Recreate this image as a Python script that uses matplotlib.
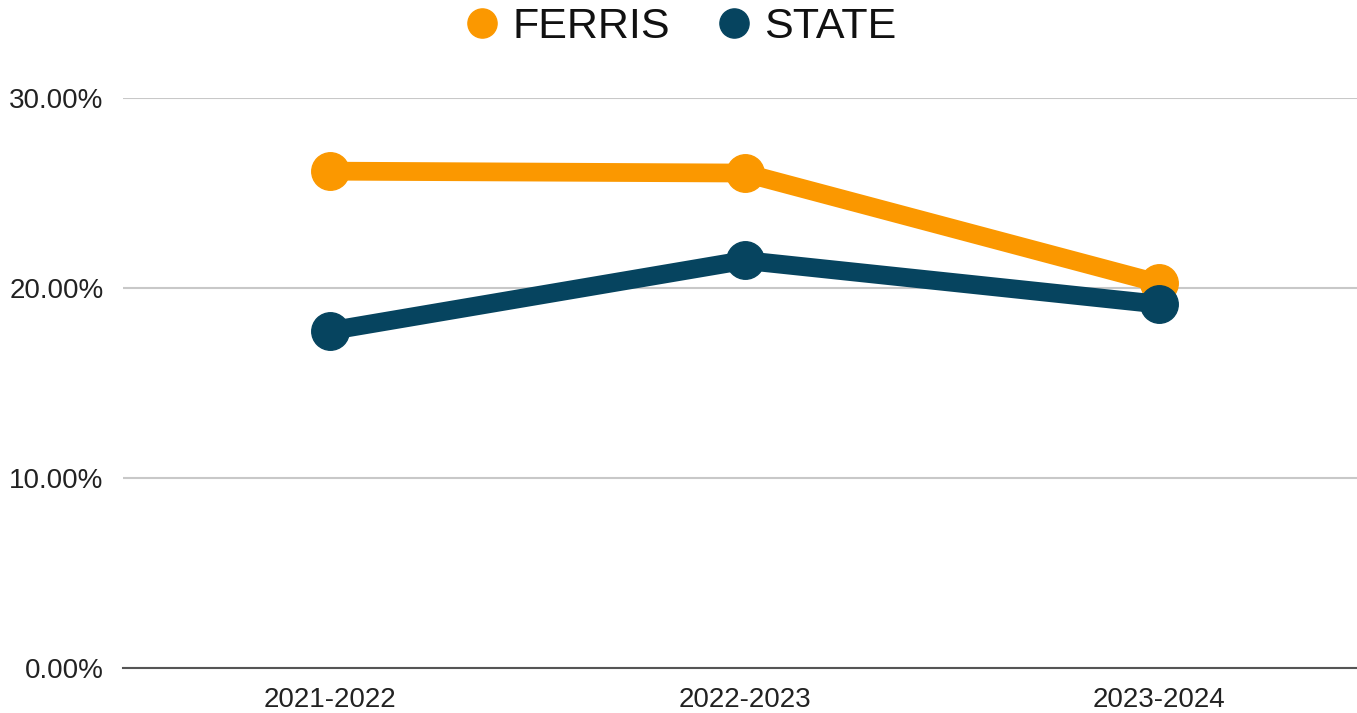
import matplotlib.pyplot as plt
from matplotlib.lines import Line2D
from matplotlib.ticker import FuncFormatter

plt.rcParams['font.family'] = ['Liberation Sans', 'DejaVu Sans']

years = ["2021-2022", "2022-2023", "2023-2024"]
ferris = [26.15, 26.05, 20.25]
state = [17.75, 21.45, 19.15]
yticks = [0, 10, 20, 30]

orange = "#FB9800"
navy = "#06445F"

fig = plt.figure(figsize=(13.57, 7.13), dpi=100)
ax = fig.add_axes([123 / 1357, 1 - 668 / 713, 1243 / 1357, 570 / 713])

x = range(len(years))
ax.plot(x, ferris, color=orange, lw=13.5, marker="o", ms=27, solid_capstyle="round", zorder=3)
ax.plot(x, state, color=navy, lw=13.5, marker="o", ms=27, solid_capstyle="round", zorder=4)

ax.set_xlim(-0.5, 2.5)
ax.set_ylim(0, 30)
ax.set_xticks(list(x))
ax.set_xticklabels(years)
ax.set_yticks(yticks)
ax.yaxis.set_major_formatter(FuncFormatter(lambda v, p: f"{v:.2f}%"))
ax.tick_params(axis="both", length=0, labelsize=20, colors="#222222")
ax.tick_params(axis="x", pad=14)
ax.tick_params(axis="y", pad=14)

ax.grid(axis="y", color="#C8C8C8", lw=1.5)
ax.set_axisbelow(True)
for s in ["top", "right", "left"]:
    ax.spines[s].set_visible(False)
ax.spines["bottom"].set_color("#555555")
ax.spines["bottom"].set_linewidth(1.5)
ax.spines["bottom"].set_zorder(2)

handles = [
    Line2D([], [], ls="none", marker="o", ms=21, color=orange),
    Line2D([], [], ls="none", marker="o", ms=21, color=navy),
]
fig.legend(handles, ["FERRIS", "STATE"], loc="center", bbox_to_anchor=(0.5, 1 - 27 / 713),
           ncol=2, frameon=False, fontsize=31, handletextpad=0.2, columnspacing=1.0,
           handlelength=1.0, labelcolor="#111111")

fig.savefig("out.png", dpi=100)
